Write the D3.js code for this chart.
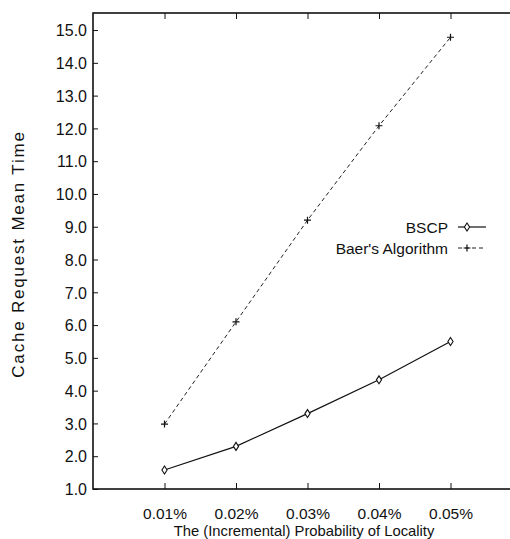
<!DOCTYPE html>
<meta charset="utf-8">
<html>
<head>
<style>
  html, body { margin: 0; padding: 0; background: #fff; }
  svg { display: block; }
  text { font-family: "Liberation Sans", Arial, sans-serif; fill: #111; }
</style>
</head>
<body>
<svg width="510" height="539"></svg>
<script src="https://cdn.jsdelivr.net/npm/d3@7"></script>
<script>
// data
var probs = [0.01, 0.02, 0.03, 0.04, 0.05];
var bscp = [1.58, 2.3, 3.3, 4.33, 5.5];
var baer = [2.98, 6.1, 9.2, 12.08, 14.78];
var yTicks = [1, 2, 3, 4, 5, 6, 7, 8, 9, 10, 11, 12, 13, 14, 15];
var seriesNames = ["BSCP", "Baer's Algorithm"];

var svg = d3.select("svg");
var plotL = 93, plotT = 13, plotR = 522, plotB = 489;

var x = d3.scaleLinear().domain([0, 0.06]).range([plotL, plotR]);
var y = d3.scaleLinear().domain([1, 15.52]).range([plotB, plotT]);

var g = svg.append("g");

// frame
g.append("rect")
    .attr("x", plotL).attr("y", plotT)
    .attr("width", plotR - plotL).attr("height", plotB - plotT)
    .attr("fill", "none").attr("stroke", "#111").attr("stroke-width", 1.6);

// y axis, ticks pointing inward
var yAxis = d3.axisRight(y).tickValues(yTicks).tickSize(5).tickFormat(d3.format(".1f"));
var ya = g.append("g").attr("transform", "translate(" + plotL + ",0)").call(yAxis);
ya.select(".domain").remove();
ya.selectAll("line").attr("stroke", "#111");
ya.selectAll("text")
    .attr("x", -6).attr("text-anchor", "end")
    .style("font-size", "16px").attr("dy", "0.36em");

// x axis bottom, inward ticks
var xAxis = d3.axisTop(x).tickValues(probs).tickSize(6)
    .tickFormat(function (d) { return d.toFixed(2) + "%"; });
var xa = g.append("g").attr("transform", "translate(0," + plotB + ")").call(xAxis);
xa.select(".domain").remove();
xa.selectAll("line").attr("stroke", "#111");
xa.selectAll("text")
    .attr("y", 30).attr("dy", 0)
    .style("font-size", "15.5px").attr("text-anchor", "middle");

// top mirrored ticks
var xt = g.append("g").attr("transform", "translate(0," + plotT + ")")
    .call(d3.axisBottom(x).tickValues(probs).tickSize(6).tickFormat(""));
xt.select(".domain").remove();
xt.selectAll("line").attr("stroke", "#111");

// lines
var line = d3.line()
    .x(function (d) { return x(d[0]); })
    .y(function (d) { return y(d[1]); });

var bscpPts = d3.zip(probs, bscp), baerPts = d3.zip(probs, baer);

g.append("path").datum(baerPts).attr("d", line)
    .attr("fill", "none").attr("stroke", "#222").attr("stroke-width", 1)
    .attr("stroke-dasharray", "4,3");
g.append("path").datum(bscpPts).attr("d", line)
    .attr("fill", "none").attr("stroke", "#111").attr("stroke-width", 1.2);

function drawDiamond(sel, cx, cy) {
    sel.append("path").attr("d", "M0,-4L2.6,0L0,4L-2.6,0Z")
        .attr("transform", "translate(" + cx + "," + cy + ")")
        .attr("fill", "#fff").attr("stroke", "#111").attr("stroke-width", 1.1);
}
function drawPlus(sel, cx, cy) {
    sel.append("path").attr("d", "M-3.5,0H3.5M0,-3.5V3.5")
        .attr("transform", "translate(" + cx + "," + cy + ")")
        .attr("fill", "none").attr("stroke", "#111").attr("stroke-width", 1.2);
}

bscpPts.forEach(function (d) { drawDiamond(g, x(d[0]), y(d[1])); });
baerPts.forEach(function (d) { drawPlus(g, x(d[0]), y(d[1])); });

// legend
var lg = g.append("g");
var legendY = [227, 248];
seriesNames.forEach(function (name, i) {
    lg.append("text").attr("x", 448).attr("y", legendY[i]).attr("dy", "0.36em")
        .attr("text-anchor", "end").style("font-size", "15.5px").text(name);
});
lg.append("line").attr("x1", 458).attr("x2", 486).attr("y1", legendY[0]).attr("y2", legendY[0])
    .attr("stroke", "#111").attr("stroke-width", 1.2);
drawDiamond(lg, 467, legendY[0]);
lg.append("line").attr("x1", 458).attr("x2", 486).attr("y1", legendY[1]).attr("y2", legendY[1])
    .attr("stroke", "#222").attr("stroke-width", 1).attr("stroke-dasharray", "4,3");
drawPlus(lg, 467, legendY[1]);

// axis titles
svg.append("text")
    .attr("transform", "translate(24,254) rotate(-90)")
    .attr("text-anchor", "middle").style("font-size", "17px")
    .style("letter-spacing", "1.8px")
    .text("Cache Request Mean Time");
svg.append("text")
    .attr("x", 304).attr("y", 536)
    .attr("text-anchor", "middle").style("font-size", "14.8px")
    .text("The (Incremental) Probability of Locality");
</script>
</body>
</html>
